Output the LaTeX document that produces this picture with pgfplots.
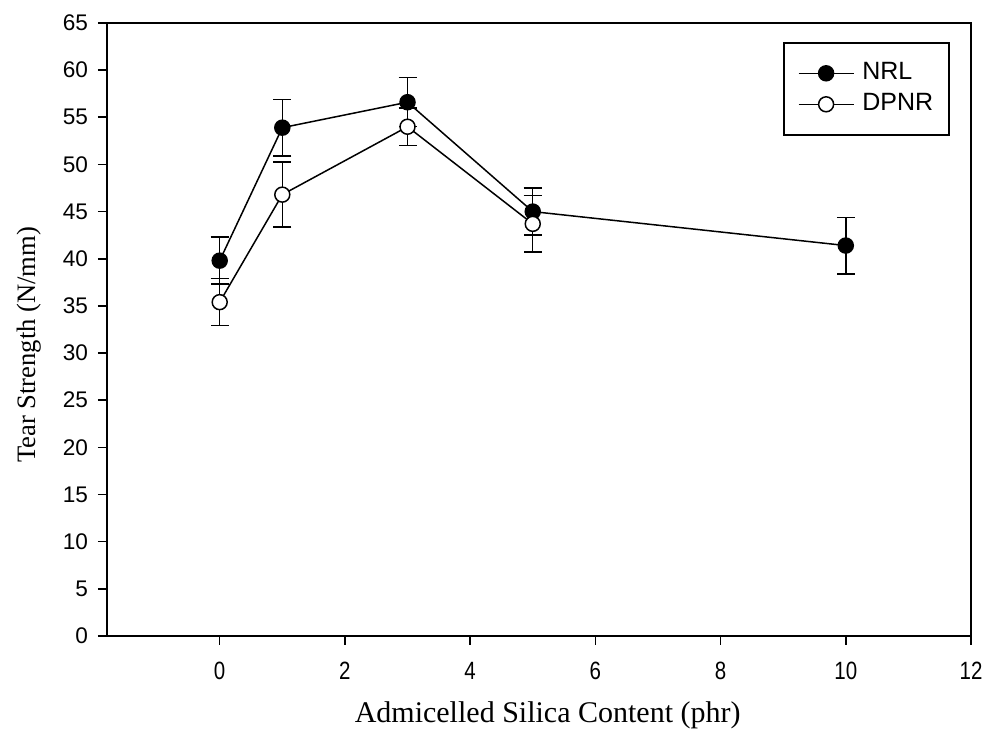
\documentclass[border=0pt]{standalone}
\usepackage{fontspec}
\setmainfont{Liberation Serif}
\newfontfamily\arial{Liberation Sans}
\usepackage{pgfplots}
\pgfplotsset{compat=1.18}
\begin{document}
\begin{tikzpicture}
\begin{axis}[
  name=ax,
  scale only axis,
  width=432pt, height=306.5pt,
  xmin=-1.8, xmax=12, ymin=0, ymax=65,
  xtick={0,2,4,6,8,10,12},
  ytick={0,5,...,65},
  tick align=outside,
  major tick length=4.5pt,
  xtick pos=bottom, ytick pos=left,
  axis line style={line width=0.8pt},
  tick style={line width=0.8pt, black},
  /pgf/number format/assume math mode=true,
  yticklabel style={font=\arial\fontsize{11.3}{12}\selectfont, xshift=-1.5pt},
  xticklabel style={font=\arial\fontsize{12.5}{13}\selectfont, yshift=-5pt},
  xticklabel={\scalebox{0.82}[1]{\pgfmathprintnumber{\tick}}},
  xlabel={Admicelled Silica Content (phr)},
  ylabel={Tear Strength (N/mm)},
  xlabel style={font=\fontsize{15}{17}\selectfont, at={(axis description cs:0.51,-0.129)}, anchor=center},
  ylabel style={font=\fontsize{13.3}{15}\selectfont, at={(axis description cs:-0.09,0.475)}, anchor=center},
  legend style={at={(1,1)}, anchor=north east, xshift=-10.5pt, yshift=-9.5pt,
    draw=black, line width=0.8pt, font=\arial\fontsize{12.5}{14}\selectfont,
    inner xsep=7pt, inner ysep=8.5pt, row sep=2pt,
    nodes={inner sep=1pt, text height=9pt, text depth=2.5pt},
    /tikz/every odd column/.append style={column sep=3pt}},
  legend cell align=left,
  legend image code/.code={
    \draw[line width=0.75pt] (0pt,0pt) -- (27.5pt,0pt);
    \draw[#1, mark repeat=1] plot coordinates {(13.75pt,0pt)};
  },
]
\addplot+[black, line width=0.75pt, mark=*, mark size=3.75pt,
  mark options={fill=black, draw=black, line width=0.75pt},
  error bars/.cd, y dir=both, y explicit,
  error bar style={line width=0.75pt, black},
  error mark options={black, mark size=4.5pt, line width=0.75pt, rotate=90}]
  coordinates {
  (0,39.8) +- (0,2.5)
  (1,53.9) +- (0,3.0)
  (3,56.6) +- (0,2.6)
  (5,45.0) +- (0,2.5)
  (10,41.4) +- (0,3.0)
};
\addlegendentry{NRL}
\addplot+[black, line width=0.75pt, mark=*, mark size=3.75pt,
  mark options={fill=white, draw=black, line width=0.75pt},
  error bars/.cd, y dir=both, y explicit,
  error bar style={line width=0.75pt, black},
  error mark options={black, mark size=4.5pt, line width=0.75pt, rotate=90}]
  coordinates {
  (0,35.4) +- (0,2.5)
  (1,46.8) +- (0,3.45)
  (3,54.0) +- (0,2.0)
  (5,43.7) +- (0,3.0)
};
\addlegendentry{DPNR}
\end{axis}
\pgfresetboundingbox
\path ([xshift=-53.5pt,yshift=-51.5pt]ax.south west) rectangle ([xshift=9pt,yshift=11.5pt]ax.north east);
\end{tikzpicture}
\end{document}
